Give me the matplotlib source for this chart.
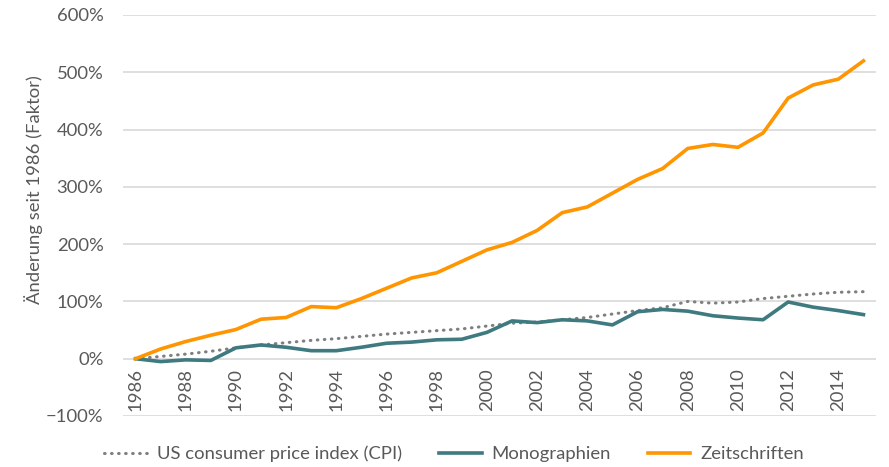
import numpy as np
import matplotlib.pyplot as plt
from matplotlib.ticker import PercentFormatter, MultipleLocator

plt.rcParams['font.family'] = ['Lato', 'DejaVu Sans']

years = np.arange(1986, 2016)

# Preisaenderung gegenueber 1986 in Prozent
cpi = [0, 4, 8, 13, 19, 24, 28, 32, 35, 39, 43, 46, 49, 52, 57,
       62, 64, 68, 72, 78, 84, 89, 100, 97, 99, 105, 109, 113, 116, 117]
monographien = [0, -5, -2, -3, 19, 24, 20, 14, 14, 20, 27, 29, 33, 34, 46,
                66, 63, 68, 66, 59, 82, 86, 83, 75, 71, 68, 99, 90, 84, 77]
zeitschriften = [0, 17, 30, 41, 51, 69, 72, 91, 89, 105, 123, 141, 150, 170, 190,
                 203, 224, 255, 265, 289, 313, 332, 367, 374, 369, 394, 455, 478, 488, 520]

grey = '#595959'
fs = 13.3

fig = plt.figure(figsize=(8.89, 4.67), dpi=100)
ax = fig.add_axes([123/889, 1 - 416/467, (876 - 123)/889, (416 - 15)/467])

ax.plot(years, cpi, color='#7f7f7f', lw=2.2, ls=(0, (0.2, 2.1)),
        dash_capstyle='round', label='US consumer price index (CPI)')
ax.plot(years, monographien, color='#3e7a80', lw=2.6, label='Monographien')
ax.plot(years, zeitschriften, color='#ff9500', lw=2.6, label='Zeitschriften')

ax.set_xlim(1985.5, 2015.5)
ax.set_ylim(-100, 600)
ax.yaxis.set_major_locator(MultipleLocator(100))
ax.yaxis.set_major_formatter(PercentFormatter(decimals=0))
ax.set_xticks(years[::2])
ax.grid(axis='y', color='#d9d9d9', lw=1.2)
ax.set_axisbelow(True)

for s in ['top', 'right', 'left']:
    ax.spines[s].set_visible(False)
ax.spines['bottom'].set_position(('data', 0))
ax.spines['bottom'].set_visible(False)

ax.tick_params(axis='x', length=0, pad=7, labelrotation=90, labelsize=fs, labelcolor=grey)
ax.tick_params(axis='y', length=0, pad=14, labelsize=fs, labelcolor=grey)

ax.set_ylabel('Änderung seit 1986 (Faktor)', fontsize=fs, color=grey)
ax.yaxis.set_label_coords(-0.106, 0.565)

fig.legend(loc='lower center', bbox_to_anchor=(0.511, -0.025), ncol=3, frameon=False,
           fontsize=fs, labelcolor=grey, handlelength=2.3, columnspacing=2.0,
           handletextpad=0.55)

fig.savefig('out.png', dpi=100)
